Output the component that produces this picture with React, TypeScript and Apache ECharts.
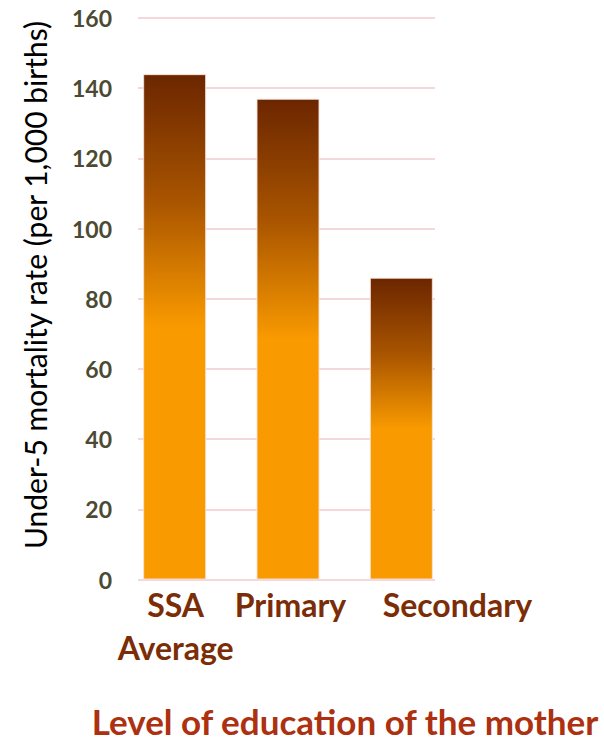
import React, { useEffect, useRef } from "react";
import * as echarts from "echarts";

const categories = ["SSA Average", "Primary", "Secondary"];
const mortality = [144, 137, 86];
const yMin = 0;
const yMax = 160;
const yInterval = 20;
const yTitle = "Under-5 mortality rate (per 1,000 births)";
const xTitle = "Level of education of the mother";

export default function App() {
  const ref = useRef<HTMLDivElement>(null);
  useEffect(() => {
    document.body.style.margin = "0";
    if (!ref.current) return;
    const chart = echarts.init(ref.current, undefined, { renderer: "svg" });
    const barGradient = new echarts.graphic.LinearGradient(0, 0, 0, 1, [
      { offset: 0, color: "#6c2600" },
      { offset: 0.25, color: "#a85400" },
      { offset: 0.5, color: "#f99a00" },
      { offset: 1, color: "#f99a00" },
    ]);
    const lab = { fontFamily: "Lato", fontWeight: "bold", fontSize: 32, color: "#7b2d07", lineHeight: 43 };
    chart.setOption({
      animation: false,
      grid: [
        { left: 138, right: 169, top: 18, bottom: 161.5 },
        { left: 118, right: 146, top: 18, bottom: 161.5 },
      ],
      xAxis: [
        { type: "category", gridIndex: 0, data: categories, show: false },
        {
          type: "category",
          gridIndex: 1,
          data: categories,
          axisLine: { show: false },
          axisTick: { show: false },
          axisLabel: {
            interval: 0,
            margin: 3,
            formatter: (v: string) => {
              if (v === "SSA Average") return "{n|SSA}\n{n|Average}";
              if (v === "Secondary") return "{s|" + v + "}";
              return "{p|" + v + "}";
            },
            rich: {
              n: { ...lab, padding: [0, 0, 0, 2] },
              p: { ...lab, padding: [0, 0, 0, 5] },
              s: { ...lab, padding: [0, 0, 0, 112] },
            },
          },
        },
      ],
      yAxis: [
        {
          type: "value",
          gridIndex: 0,
          min: yMin,
          max: yMax,
          interval: yInterval,
          axisLine: { show: false },
          axisTick: { show: false },
          splitLine: { lineStyle: { color: "#f2d8da", width: 2 } },
          axisLabel: {
            margin: 26,
            fontFamily: "Lato",
            fontWeight: "bold",
            fontSize: 23,
            color: "#4b4a34",
          },
        },
        {
          type: "value",
          gridIndex: 1,
          min: yMin,
          max: yMax,
          interval: yInterval,
          show: false,
          splitLine: { show: false },
        },
      ],
      series: [
        {
          type: "bar",
          xAxisIndex: 1,
          yAxisIndex: 1,
          data: mortality,
          barWidth: 63,
          itemStyle: {
            color: barGradient,
            borderColor: "rgba(250,225,215,0.9)",
            borderWidth: 1,
          },
        },
      ],
      graphic: [
        {
          type: "text",
          x: 35,
          y: 285,
          rotation: Math.PI / 2,
          style: {
            text: yTitle,
            fontFamily: "Lato",
            fontSize: 30,
            fill: "#000000",
            align: "center",
            verticalAlign: "middle",
          },
        },
        {
          type: "text",
          x: 345,
          y: 721,
          style: {
            text: xTitle,
            fontFamily: "Lato",
            fontWeight: "bold",
            fontSize: 35,
            fill: "#ad3010",
            align: "center",
            verticalAlign: "middle",
          },
        },
      ],
    });
    return () => chart.dispose();
  }, []);
  return <div ref={ref} style={{ width: 604, height: 741 }} />;
}
